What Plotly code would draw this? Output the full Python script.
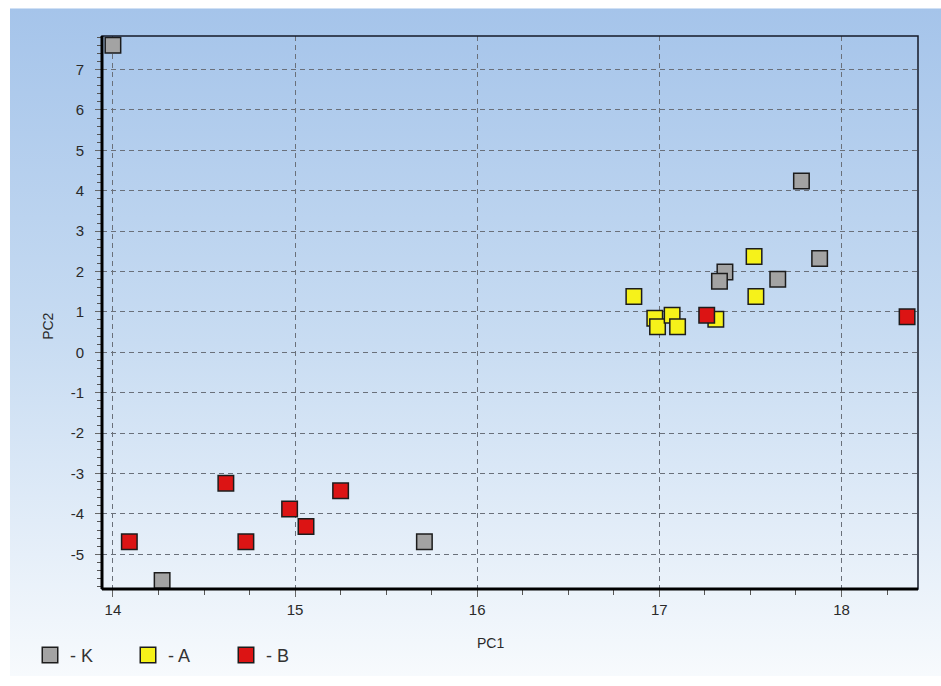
import base64
import plotly.graph_objects as go

# PCA scores per group
k_x = [14.00, 14.27, 15.71, 17.78, 17.88, 17.36, 17.33, 17.65]
k_y = [7.60, -5.65, -4.69, 4.24, 2.32, 1.99, 1.76, 1.81]
a_x = [16.86, 17.52, 17.53, 16.975, 16.99, 17.07, 17.10, 17.31]
a_y = [1.38, 2.37, 1.38, 0.84, 0.63, 0.92, 0.63, 0.82]
b_x = [17.26, 18.36, 14.09, 14.62, 14.73, 14.97, 15.06, 15.25]
b_y = [0.92, 0.88, -4.69, -3.24, -4.69, -3.88, -4.31, -3.43]

group_names = ["- K", "- A", "- B"]
group_colors = ["#a3a3a3", "#f6f21a", "#dc1414"]

x_ticks = [14, 15, 16, 17, 18]
y_ticks = [-5, -4, -3, -2, -1, 0, 1, 2, 3, 4, 5, 6, 7]

W, H = 941, 686
L, R, T, B = 102, 23, 36, 91
pw, ph = W - L - R, H - T - B

fig = go.Figure()
for xs, ys, name, col in zip([k_x, a_x, b_x], [k_y, a_y, b_y], group_names, group_colors):
    fig.add_trace(go.Scatter(
        x=xs, y=ys, mode="markers", name=name,
        marker=dict(symbol="square", size=15.5, color=col,
                    line=dict(color="#1c1c1c", width=1.5)),
        cliponaxis=False,
    ))

# vertical blue-to-white gradient used as the panel background
svg = (
    '<svg xmlns="http://www.w3.org/2000/svg" width="100" height="100" preserveAspectRatio="none">'
    '<defs><linearGradient id="g" x1="0" y1="0" x2="0" y2="1">'
    '<stop offset="0" stop-color="#a5c4ea"/>'
    '<stop offset="0.5" stop-color="#c8dcf2"/>'
    '<stop offset="1" stop-color="#f7fafd"/>'
    '</linearGradient></defs>'
    '<rect width="100" height="100" fill="url(#g)"/></svg>'
)
src = "data:image/svg+xml;base64," + base64.b64encode(svg.encode()).decode()

px0, py0 = 10, 8
fig.add_layout_image(dict(
    source=src, xref="paper", yref="paper",
    x=(px0 - L) / pw, y=(H - B - py0) / ph,
    sizex=(W - px0) / pw, sizey=(683 - py0) / ph,
    xanchor="left", yanchor="top", sizing="stretch", layer="below",
))

tick_font = dict(family="Liberation Sans, Arial, sans-serif", size=15, color="#2a2a2a")
grid = dict(showgrid=True, gridcolor="#6a707a", gridwidth=1, griddash="5px,4px",
            zeroline=False, showline=False)

fig.update_xaxes(
    range=[13.94, 18.42], tickmode="array",
    tickvals=x_ticks, ticktext=[str(v) for v in x_ticks],
    ticks="outside", ticklen=7, tickcolor="#666", tickwidth=1,
    minor=dict(dtick=0.25, tick0=14, ticks="outside", ticklen=5, tickcolor="#555", showgrid=False),
    tickfont=tick_font, **grid,
)
fig.update_yaxes(
    range=[-5.86, 7.83], tickmode="array",
    tickvals=y_ticks, ticktext=[str(v) for v in y_ticks],
    ticks="outside", ticklen=6, tickcolor="#666", tickwidth=1,
    minor=dict(dtick=0.2, tick0=0, ticks="outside", ticklen=4, tickcolor="#555", showgrid=False),
    tickfont=tick_font, ticklabelstandoff=8, **grid,
)

# plot frame: thin top/right, heavy left/bottom
fig.add_shape(type="rect", xref="paper", yref="paper", x0=0, x1=1, y0=0, y1=1,
              line=dict(color="#141a28", width=1.5), layer="above")
fig.add_shape(type="line", xref="paper", yref="paper", x0=0, x1=0, y0=0, y1=1,
              line=dict(color="#000000", width=3), layer="above")
fig.add_shape(type="line", xref="paper", yref="paper", x0=0, x1=1, y0=0, y1=0,
              line=dict(color="#000000", width=3), layer="above")

label_font = dict(family="Liberation Sans, Arial, sans-serif", size=14, color="#2a2a2a")
fig.add_annotation(text="PC1", xref="paper", yref="paper",
                   x=(490 - L) / pw, y=(H - B - 650) / ph,
                   showarrow=False, font=label_font, xanchor="center", yanchor="middle")
fig.add_annotation(text="PC2", xref="paper", yref="paper",
                   x=(48 - L) / pw, y=(H - B - 330) / ph, textangle=-90,
                   showarrow=False, font=label_font, xanchor="center", yanchor="middle")

fig.update_layout(
    width=W, height=H,
    margin=dict(l=L, r=R, t=T, b=B),
    paper_bgcolor="#ffffff", plot_bgcolor="rgba(0,0,0,0)",
    showlegend=True,
    legend=dict(
        orientation="h", x=(30 - L) / pw, y=(H - B - 662) / ph,
        xanchor="left", yanchor="middle",
        bgcolor="rgba(0,0,0,0)", borderwidth=0,
        entrywidth=53, entrywidthmode="pixels",
        font=dict(family="Liberation Sans, Arial, sans-serif", size=18, color="#333"),
    ),
)

fig.write_html("out.html")
